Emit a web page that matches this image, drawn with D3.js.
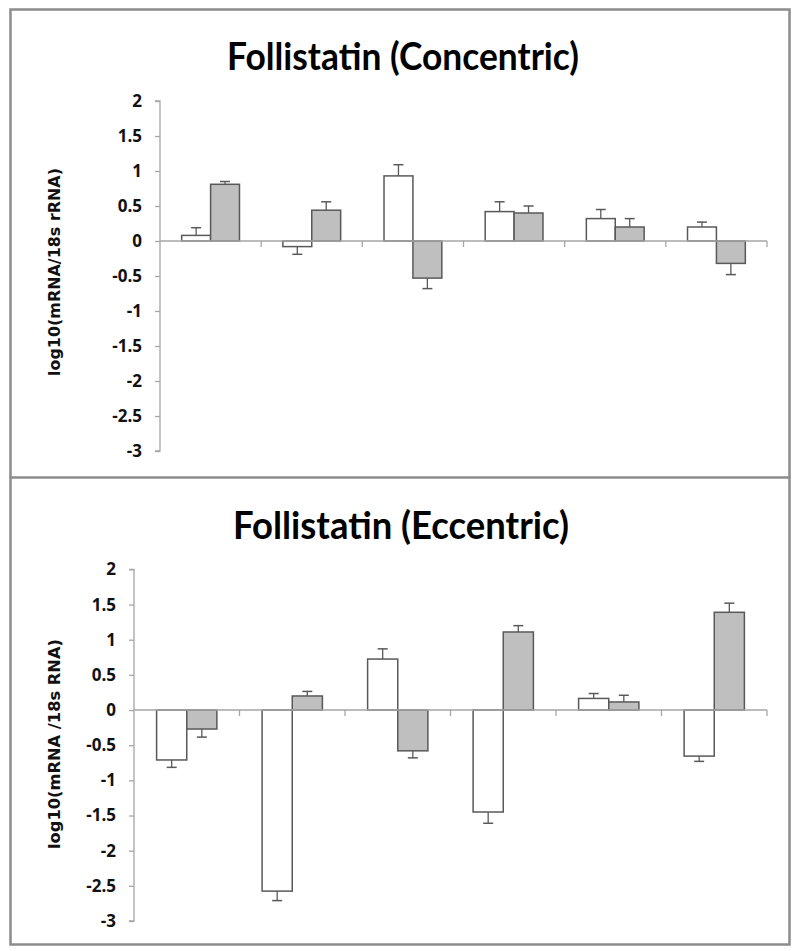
<!DOCTYPE html>
<html>
<head>
<meta charset="utf-8">
<script src="https://cdn.jsdelivr.net/npm/d3@7"></script>
<style>
  html, body { margin: 0; padding: 0; background: #fff; }
  svg { display: block; }
</style>
</head>
<body>
<svg id="chart" width="800" height="951"></svg>
<script>
// ---- Data ----
const categories = ["G1", "G2", "G3", "G4", "G5", "G6"];
const yTicks = [2, 1.5, 1, 0.5, 0, -0.5, -1, -1.5, -2, -2.5, -3];

const concTitle = "Follistatin (Concentric)";
const concYLabel = "log10(mRNA/18s rRNA)";
const concWhite = [0.08, -0.08, 0.93, 0.42, 0.32, 0.20];
const concWhiteErr = [0.11, 0.11, 0.16, 0.14, 0.13, 0.07];
const concGray = [0.81, 0.44, -0.53, 0.40, 0.20, -0.32];
const concGrayErr = [0.04, 0.12, 0.15, 0.10, 0.12, 0.16];

const eccTitle = "Follistatin (Eccentric)";
const eccYLabel = "log10(mRNA /18s RNA)";
const eccWhite = [-0.71, -2.575, 0.725, -1.45, 0.165, -0.655];
const eccWhiteErr = [0.105, 0.135, 0.145, 0.16, 0.07, 0.075];
const eccGray = [-0.27, 0.20, -0.58, 1.11, 0.115, 1.39];
const eccGrayErr = [0.115, 0.065, 0.10, 0.09, 0.095, 0.13];

// ---- Drawing ----
const svg = d3.select("#chart");
const frameColor = "#8c8c8c";
const axisColor = "#a6a6a6";
const barStroke = "#595959";
const grayFill = "#bfbfbf";

// outer frame + divider
svg.append("rect").attr("x", 10.5).attr("y", 9.5).attr("width", 779).attr("height", 935)
  .attr("fill", "none").attr("stroke", frameColor).attr("stroke-width", 2.5);
svg.append("line").attr("x1", 10).attr("x2", 790).attr("y1", 477.5).attr("y2", 477.5)
  .attr("stroke", frameColor).attr("stroke-width", 2.5);

function drawPanel(cfg) {
  const g = svg.append("g");
  const x = d3.scaleBand().domain(categories).range([cfg.x0, cfg.x1]).paddingInner(0).paddingOuter(0);
  const y = d3.scaleLinear().domain([-3, 2]).range([cfg.yBottom, cfg.yTop]);
  const bw = x.bandwidth() / 3.5;

  // title
  g.append("text").attr("x", cfg.titleX).attr("y", cfg.titleY)
    .attr("text-anchor", "middle")
    .attr("font-family", "Lato, 'Open Sans', sans-serif").attr("font-weight", "bold")
    .attr("font-size", 38).attr("textLength", cfg.titleLen).attr("lengthAdjust", "spacingAndGlyphs")
    .attr("fill", "#000").text(cfg.title);

  // y axis
  const yAxis = d3.axisLeft(y).tickValues(yTicks).tickSize(5).tickPadding(13)
    .tickFormat(d => String(d));
  const ya = g.append("g").attr("transform", `translate(${cfg.x0},0)`).call(yAxis);
  ya.select(".domain").attr("stroke", axisColor).attr("stroke-width", 1.3)
    .attr("d", `M-5,${cfg.yTop}H0V${cfg.yBottom}H-5`);
  ya.selectAll(".tick line").attr("stroke", axisColor).attr("stroke-width", 1.3);
  ya.selectAll(".tick text").attr("font-family", "'Open Sans', sans-serif").attr("font-weight", "bold")
    .attr("font-size", 17).attr("fill", "#111");

  // y title
  g.append("text")
    .attr("transform", `translate(${cfg.yLabelX},${cfg.yLabelY}) rotate(-90)`)
    .attr("text-anchor", "middle")
    .attr("font-family", "'DejaVu Sans', sans-serif").attr("font-weight", "bold")
    .attr("font-size", 15).attr("textLength", cfg.yLabelLen).attr("lengthAdjust", "spacingAndGlyphs")
    .attr("fill", "#111").text(cfg.yLabel);

  // bars
  const series = [
    { vals: cfg.white, errs: cfg.whiteErr, fill: "#ffffff", off: -1 },
    { vals: cfg.gray, errs: cfg.grayErr, fill: grayFill, off: 0 }
  ];
  series.forEach(s => {
    const center = c => x(c) + x.bandwidth() / 2;
    g.selectAll(null).data(categories).enter().append("rect")
      .attr("x", (c) => center(c) + s.off * bw)
      .attr("width", bw)
      .attr("y", (c, i) => y(Math.max(0, s.vals[i])))
      .attr("height", (c, i) => Math.abs(y(s.vals[i]) - y(0)))
      .attr("fill", s.fill).attr("stroke", barStroke).attr("stroke-width", 1.5);
  });

  // x axis (at zero)
  const xa = g.append("g");
  xa.append("line").attr("x1", cfg.x0).attr("x2", cfg.x1).attr("y1", y(0)).attr("y2", y(0))
    .attr("stroke", axisColor).attr("stroke-width", 1.5);
  const bounds = categories.map(c => x(c) + x.bandwidth());
  xa.selectAll(null).data(bounds).enter().append("line")
    .attr("x1", d => d).attr("x2", d => d).attr("y1", y(0)).attr("y2", y(0) + 6)
    .attr("stroke", axisColor).attr("stroke-width", 1.3);

  // error bars
  series.forEach(s => {
    const cx = c => x(c) + x.bandwidth() / 2 + s.off * bw + bw / 2;
    const end = i => s.vals[i] + Math.sign(s.vals[i]) * s.errs[i];
    g.selectAll(null).data(categories).enter().append("line")
      .attr("x1", cx).attr("x2", cx)
      .attr("y1", (c, i) => y(s.vals[i])).attr("y2", (c, i) => y(end(i)))
      .attr("stroke", barStroke).attr("stroke-width", 1.3);
    g.selectAll(null).data(categories).enter().append("line")
      .attr("x1", c => cx(c) - 5).attr("x2", c => cx(c) + 5)
      .attr("y1", (c, i) => y(end(i))).attr("y2", (c, i) => y(end(i)))
      .attr("stroke", barStroke).attr("stroke-width", 1.5);
  });
}

drawPanel({
  title: concTitle, titleX: 403, titleY: 70, titleLen: 352,
  yLabel: concYLabel, yLabelX: 60, yLabelY: 272, yLabelLen: 208,
  x0: 160, x1: 767, yTop: 101, yBottom: 451,
  white: concWhite, whiteErr: concWhiteErr, gray: concGray, grayErr: concGrayErr
});
drawPanel({
  title: eccTitle, titleX: 401, titleY: 539, titleLen: 336,
  yLabel: eccYLabel, yLabelX: 60, yLabelY: 744, yLabelLen: 210,
  x0: 134, x1: 767, yTop: 569.4, yBottom: 921,
  white: eccWhite, whiteErr: eccWhiteErr, gray: eccGray, grayErr: eccGrayErr
});
</script>
</body>
</html>
